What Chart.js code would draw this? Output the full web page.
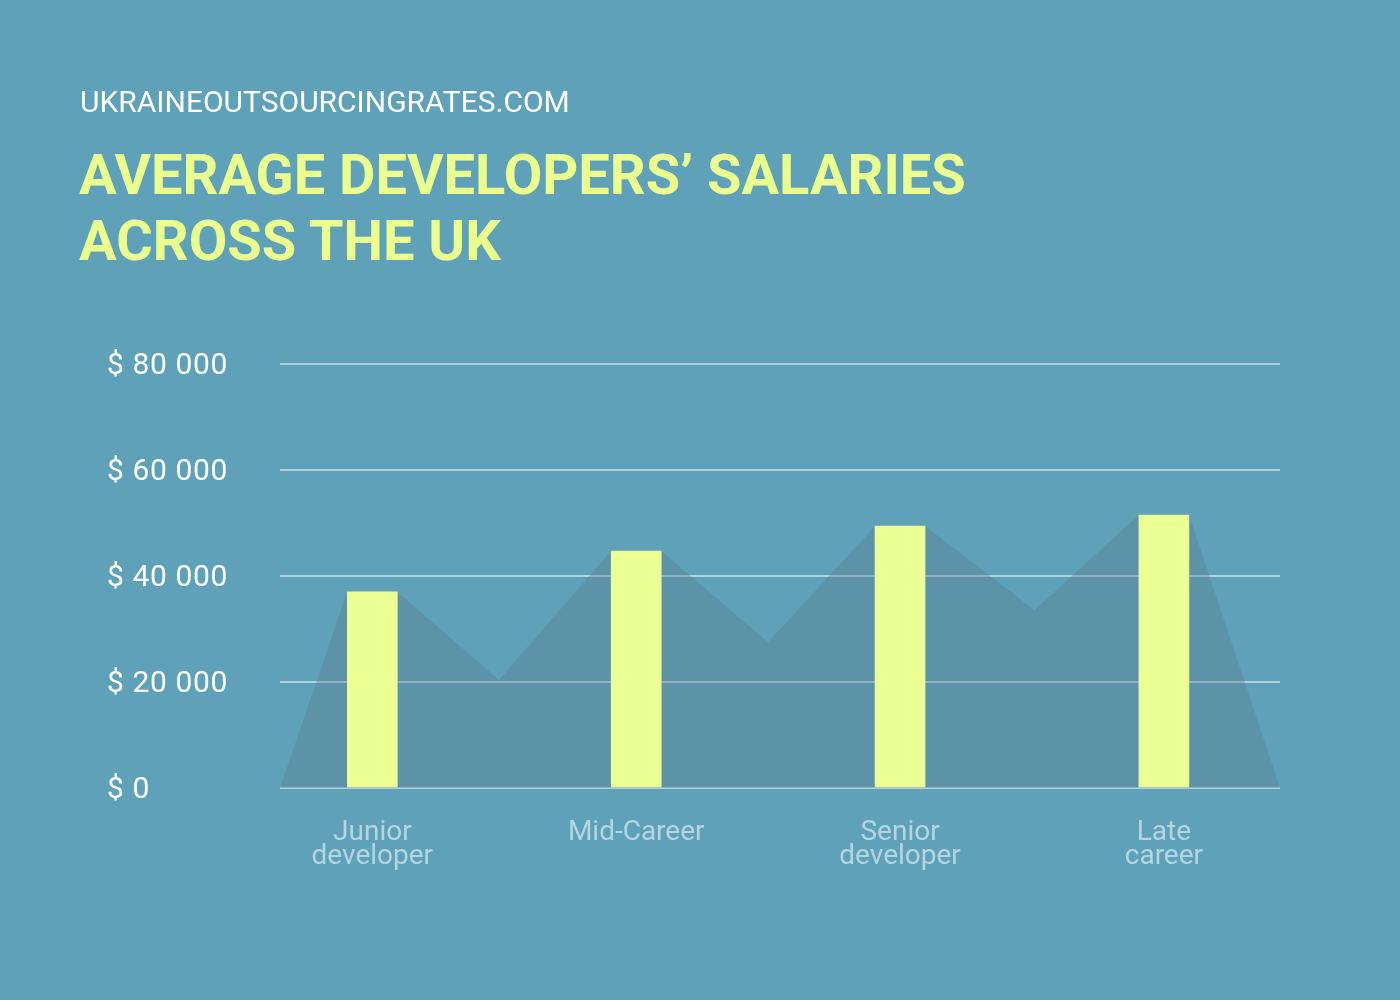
<!DOCTYPE html>
<html>
<head>
<meta charset="utf-8">
<script src="https://cdn.jsdelivr.net/npm/chart.js@4.4.1/dist/chart.umd.min.js"></script>
<style>
  html, body { margin: 0; padding: 0; background: #5ea1b9; }
  #wrap { position: relative; width: 1400px; height: 1000px; overflow: hidden; }
  .site { position: absolute; left: 80px; top: 87px; font-family: Roboto, sans-serif; font-size: 30px; line-height: 30px; color: #ffffff; }
  .title { position: absolute; left: 79px; top: 142px; font-family: Roboto, sans-serif; font-weight: 700; font-size: 56px; line-height: 66px; color: #ebff8f; }
  #chart { position: absolute; left: 0; top: 0; }
</style>
</head>
<body>
<div id="wrap">
  <canvas id="chart" width="1400" height="1000"></canvas>
  <div class="site">UKRAINEOUTSOURCINGRATES.COM</div>
  <div class="title">AVERAGE DEVELOPERS’ SALARIES<br>ACROSS THE UK</div>
</div>
<script>
// dados
const categories = [['Junior', 'developer'], ['Mid-Career'], ['Senior', 'developer'], ['Late', 'career']];
const salaries = [37000, 44700, 49400, 51500];
// vales do fundo entre as barras
const valleyPos = [0.48, 1.5, 2.51];
const valleyValues = [20400, 27500, 33600];
const yTicks = [0, 20000, 40000, 60000, 80000];

const xMin = -0.35, xMax = 3.44;
const halfBar = 0.095;

// monta o poligono de fundo a partir das barras
function buildBackdrop() {
  const pts = [{ x: xMin, y: 0 }];
  salaries.forEach((v, i) => {
    pts.push({ x: i - halfBar, y: v });
    pts.push({ x: i + halfBar, y: v });
    if (i < valleyValues.length) pts.push({ x: valleyPos[i], y: valleyValues[i] });
  });
  pts.push({ x: xMax, y: 0 });
  return pts;
}

function fmtMoney(v) {
  return '$ ' + String(v).replace(/\B(?=(\d{3})+(?!\d))/g, ' ');
}

// espaçamento entre letras nos rótulos do eixo
function spaceLabels(axis, px) {
  if (axis._spaced) return;
  const orig = axis.drawLabels.bind(axis);
  axis.drawLabels = function(area) {
    const c = this.ctx;
    const prev = c.letterSpacing;
    c.letterSpacing = px + 'px';
    orig(area);
    c.letterSpacing = prev;
  };
  axis._spaced = true;
}

const ctx = document.getElementById('chart').getContext('2d');
new Chart(ctx, {
  type: 'bar',
  data: {
    datasets: [
      {
        label: 'Salary',
        data: salaries.map((v, i) => ({ x: i, y: v })),
        backgroundColor: '#ebff93',
        barThickness: 50,
        order: 0
      },
      {
        type: 'line',
        label: 'backdrop',
        data: buildBackdrop(),
        fill: 'origin',
        backgroundColor: 'rgba(90,120,140,0.35)',
        borderWidth: 0,
        pointRadius: 0,
        tension: 0,
        order: 1
      }
    ]
  },
  options: {
    responsive: false,
    animation: false,
    layout: { padding: { left: 107, top: 364, right: 120, bottom: 0 } },
    plugins: {
      legend: { display: false },
      tooltip: { enabled: false }
    },
    scales: {
      x: {
        type: 'linear',
        min: xMin,
        max: xMax,
        offset: false,
        grid: { display: false },
        border: { display: false },
        afterBuildTicks: (axis) => { axis.ticks = categories.map((c, i) => ({ value: i })); },
        afterFit: (axis) => { axis.height = 212; },
        ticks: {
          autoSkip: false,
          maxRotation: 0,
          padding: 25,
          color: '#b4d6e2',
          font: { family: 'Roboto', size: 28, lineHeight: '24px' },
          callback: (value, index) => categories[index]
        }
      },
      y: {
        min: 0,
        max: 80000,
        afterBuildTicks: (axis) => { axis.ticks = yTicks.map(v => ({ value: v })); },
        afterFit: (axis) => { axis.width = 173; spaceLabels(axis, 0.6); },
        grid: { color: 'rgba(255,255,255,0.5)', lineWidth: 2, drawTicks: false },
        border: { display: false },
        ticks: {
          crossAlign: 'far',
          labelOffset: 2,
          color: '#ffffff',
          font: { family: 'Roboto', size: 30 },
          callback: (v) => fmtMoney(v)
        }
      }
    }
  }
});
</script>
</body>
</html>
